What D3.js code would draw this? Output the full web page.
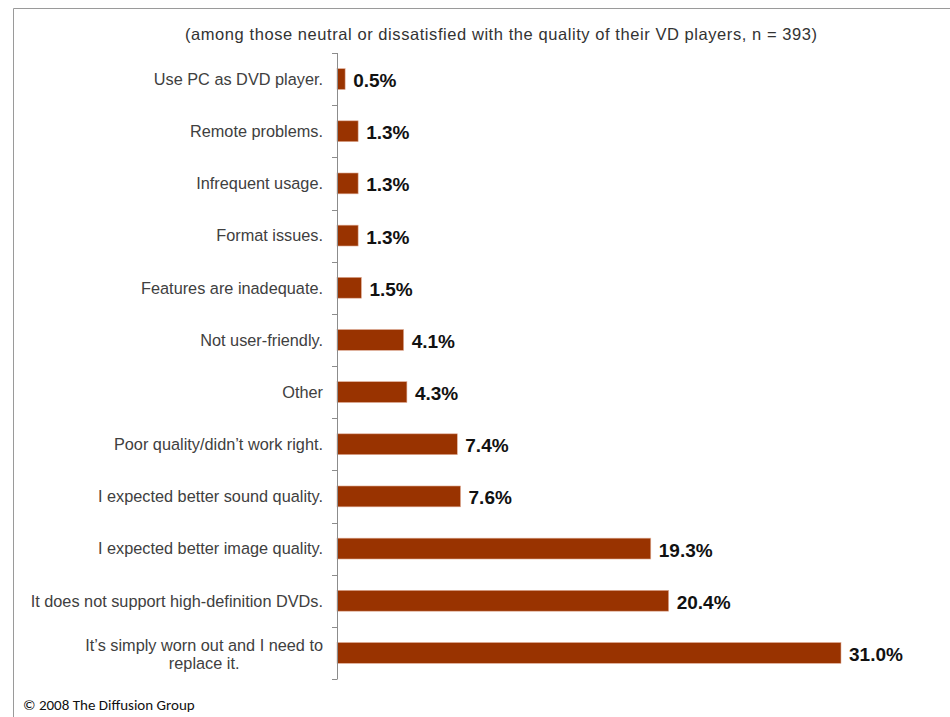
<!DOCTYPE html>
<html>
<head>
<meta charset="utf-8">
<script src="https://cdn.jsdelivr.net/npm/d3@7"></script>
<style>
  html, body { margin: 0; padding: 0; background: #ffffff; }
  svg { display: block; }
</style>
</head>
<body>
<script>
// Reasons for dissatisfaction with DVD players (percent of respondents)
const categories = [
  "Use PC as DVD player.",
  "Remote problems.",
  "Infrequent usage.",
  "Format issues.",
  "Features are inadequate.",
  "Not user-friendly.",
  "Other",
  "Poor quality/didn\u2019t work right.",
  "I expected better sound quality.",
  "I expected better image quality.",
  "It does not support high-definition DVDs.",
  "It\u2019s simply worn out and I need to replace it."
];
const values = [0.5, 1.3, 1.3, 1.3, 1.5, 4.1, 4.3, 7.4, 7.6, 19.3, 20.4, 31.0];
const valueLabels = ["0.5%", "1.3%", "1.3%", "1.3%", "1.5%", "4.1%", "4.3%", "7.4%", "7.6%", "19.3%", "20.4%", "31.0%"];
// Long category names are broken onto two lines
const wrappedLines = {
  "It\u2019s simply worn out and I need to replace it.": ["It\u2019s simply worn out and I need to", "replace it."]
};
const subtitle = "(among those neutral or dissatisfied  with the quality of their VD players, n = 393)";
const credit = "\u00a9 2008 The Diffusion Group";

const W = 950, H = 717;
const font = "'Liberation Sans', Arial, sans-serif";
const svg = d3.select("body").append("svg").attr("width", W).attr("height", H);

// outer frame
svg.append("path")
  .attr("d", `M13.5,${H} L13.5,8.5 L${W},8.5`)
  .attr("fill", "none").attr("stroke", "#9a9a9a").attr("stroke-width", 1);

svg.append("text")
  .attr("x", 501).attr("y", 40)
  .attr("text-anchor", "middle")
  .attr("font-family", font).attr("font-size", 16.5)
  .attr("textLength", 632).attr("lengthAdjust", "spacing")
  .attr("fill", "#333333")
  .text(subtitle);

const axisX = 337;
const x = d3.scaleLinear().domain([0, 31]).range([axisX, 841]);
const y = d3.scaleBand().domain(categories).range([53, 679]).paddingInner(0.6).paddingOuter(0.3);

// bars
svg.append("g").selectAll("rect").data(categories).join("rect")
  .attr("x", x(0))
  .attr("y", d => y(d))
  .attr("width", (d, i) => x(values[i]) - x(0))
  .attr("height", y.bandwidth())
  .attr("fill", "#993300")
  .attr("stroke", "#e2b09a").attr("stroke-width", 0.6);

// category axis with ticks on band boundaries
const step = (679 - 53) / categories.length;
const ax = svg.append("g");
ax.append("line")
  .attr("x1", axisX + 0.5).attr("x2", axisX + 0.5)
  .attr("y1", 53).attr("y2", 679)
  .attr("stroke", "#8c8c8c").attr("stroke-width", 1);
ax.selectAll("line.tick").data(d3.range(categories.length + 1)).join("line")
  .attr("class", "tick")
  .attr("x1", axisX - 5).attr("x2", axisX + 0.5)
  .attr("y1", i => Math.round(53 + i * step) + 0.5)
  .attr("y2", i => Math.round(53 + i * step) + 0.5)
  .attr("stroke", "#8c8c8c").attr("stroke-width", 1);

// category labels
const labelRight = 323;
const labels = svg.append("g")
  .attr("font-family", font).attr("font-size", 16.3).attr("fill", "#404040");
categories.forEach(c => {
  const cy = y(c) + y.bandwidth() / 2;
  const lines = wrappedLines[c];
  if (!lines) {
    labels.append("text")
      .attr("x", labelRight).attr("y", cy).attr("dy", "0.36em")
      .attr("text-anchor", "end").text(c);
  } else {
    const first = labels.append("text")
      .attr("x", labelRight).attr("y", cy - 8).attr("dy", "0.36em")
      .attr("text-anchor", "end").text(lines[0]);
    const wFirst = first.node().getComputedTextLength();
    labels.append("text")
      .attr("x", labelRight - wFirst / 2).attr("y", cy + 10).attr("dy", "0.36em")
      .attr("text-anchor", "middle").text(lines[1]);
  }
});

// value labels
svg.append("g").selectAll("text").data(categories).join("text")
  .attr("x", (d, i) => x(values[i]) + 8)
  .attr("y", d => y(d) + y.bandwidth() / 2)
  .attr("dy", "0.42em")
  .attr("font-family", font).attr("font-size", 19).attr("font-weight", "bold")
  .attr("fill", "#111111")
  .text((d, i) => valueLabels[i]);

svg.append("text")
  .attr("x", 23).attr("y", 710)
  .attr("font-family", "Carlito, 'Liberation Sans Narrow', 'Liberation Sans', sans-serif")
  .attr("font-size", 15).attr("fill", "#111111")
  .text(credit);
</script>
</body>
</html>
